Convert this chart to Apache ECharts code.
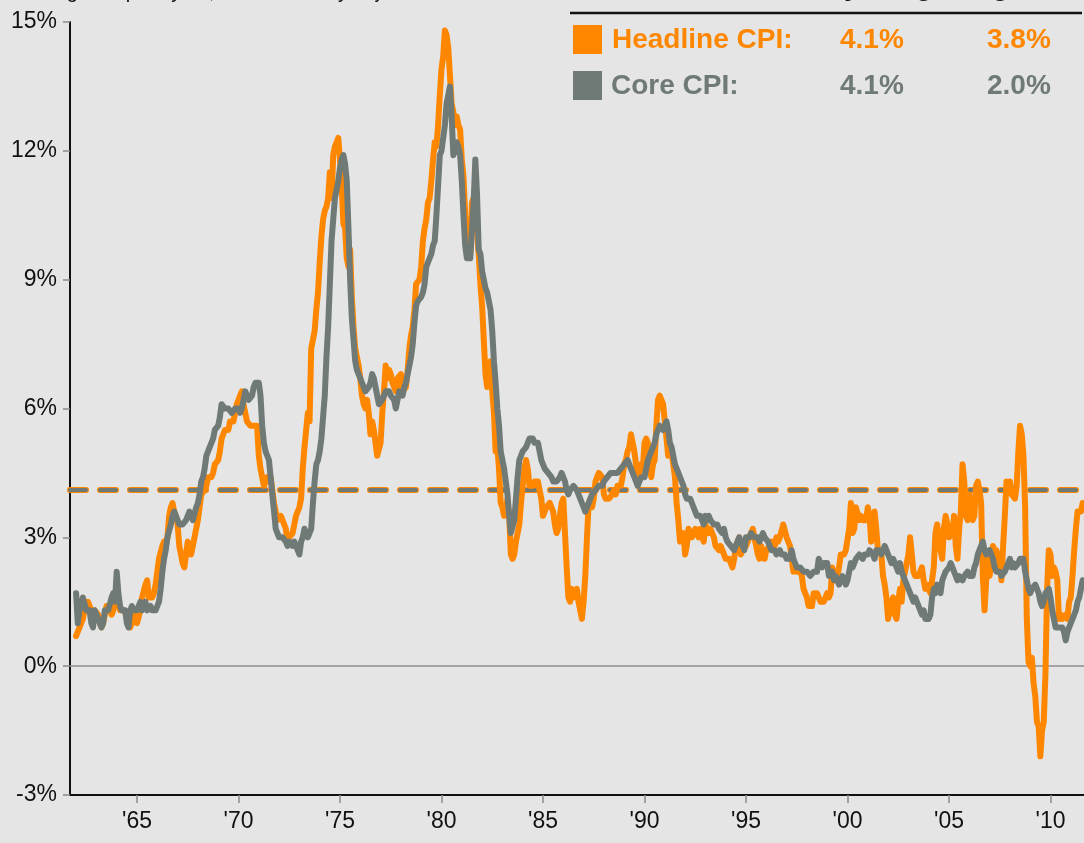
<!DOCTYPE html>
<html>
<head>
<meta charset="utf-8">
<script src="https://cdn.jsdelivr.net/npm/echarts@6/dist/echarts.min.js"></script>
<style>
  html, body { margin: 0; padding: 0; background: #e4e5e4; }
  #chart { width: 1084px; height: 843px; }
</style>
</head>
<body>
<div id="chart"></div>
<script>
// Monthly year-over-year % change, January 1962 onward (one row per year)
const firstYear = 1962;

const headline1960s = [
  0.7, 0.7, 0.9, 1.0, 1.1, 1.3, 1.4, 1.5, 1.4, 1.3, 1.2, 1.3,
  1.3, 1.2, 1.0, 0.9, 1.0, 1.2, 1.4, 1.4, 1.3, 1.2, 1.3, 1.6,
  1.6, 1.5, 1.3, 1.3, 1.3, 1.3, 1.2, 1.0, 0.9, 1.0, 1.2, 1.2,
  1.0, 1.0, 1.3, 1.6, 1.6, 1.9, 2.0, 1.6, 1.6, 1.6, 1.7, 1.9,
  1.9, 2.5, 2.5, 2.8, 2.9, 2.8, 3.0, 3.5, 3.7, 3.8, 3.6, 3.5,
  3.3, 2.8, 2.6, 2.4, 2.3, 2.6, 2.9, 2.7, 2.6, 2.8, 3.0, 3.0,
  3.4, 3.7, 4.0, 4.0, 4.1, 4.2, 4.4, 4.4, 4.4, 4.5, 4.7, 4.7,
  4.8, 5.0, 5.3, 5.4, 5.5, 5.5, 5.5, 5.7, 5.7, 5.7, 5.9, 6.1
];
const headline1970s = [
  6.1, 6.3, 6.4, 6.1, 5.9, 5.7, 5.7, 5.6, 5.6, 5.6, 5.6, 5.6,
  4.9, 4.6, 4.4, 4.2, 4.2, 4.4, 4.3, 4.4, 4.1, 3.8, 3.6, 3.4,
  3.4, 3.5, 3.4, 3.4, 3.2, 2.9, 3.0, 3.0, 3.1, 3.3, 3.5, 3.5,
  3.7, 3.9, 4.6, 5.1, 5.5, 5.9, 5.7, 7.4, 7.4, 7.8, 8.3, 8.7,
  9.4, 10.0, 10.4, 10.6, 10.7, 10.9, 11.5, 10.9, 11.9, 12.1, 12.2, 12.3,
  11.8, 11.2, 10.3, 10.2, 9.5, 9.3, 9.7, 8.6, 7.9, 7.4, 7.4, 7.0,
  6.7, 6.3, 6.1, 6.0, 6.2, 5.9, 5.4, 5.7, 5.5, 5.5, 4.9, 4.9,
  5.2, 5.9, 6.4, 7.0, 6.7, 6.9, 6.8, 6.6, 6.6, 6.4, 6.7, 6.7,
  6.8, 6.4, 6.4, 6.5, 6.9, 7.4, 7.7, 7.9, 8.3, 8.9, 8.9, 9.0,
  9.3, 9.9, 10.2, 10.4, 10.8, 10.9, 11.3, 11.8, 12.2, 12.1, 12.6, 13.3
];
const headline1980s = [
  13.9, 14.2, 14.8, 14.7, 14.4, 14.4, 13.1, 12.9, 12.6, 12.8, 12.6, 12.5,
  11.8, 11.4, 10.5, 10.0, 9.8, 9.6, 10.8, 10.8, 11.0, 10.1, 9.6, 8.9,
  8.4, 7.6, 6.8, 6.5, 6.7, 7.1, 6.4, 5.9, 5.0, 5.1, 4.6, 3.8,
  3.7, 3.5, 3.6, 3.9, 3.5, 2.6, 2.5, 2.6, 2.9, 2.9, 3.3, 3.8,
  4.2, 4.6, 4.8, 4.6, 4.2, 4.2, 4.2, 4.3, 4.3, 4.3, 4.1, 3.9,
  3.5, 3.5, 3.7, 3.7, 3.8, 3.8, 3.6, 3.3, 3.1, 3.2, 3.5, 3.8,
  3.9, 3.1, 2.3, 1.6, 1.5, 1.8, 1.6, 1.6, 1.8, 1.5, 1.3, 1.1,
  1.5, 2.1, 3.0, 3.8, 3.9, 3.7, 3.9, 4.3, 4.4, 4.5, 4.5, 4.4,
  4.0, 3.9, 3.9, 3.9, 3.9, 4.0, 4.1, 4.0, 4.2, 4.2, 4.2, 4.4,
  4.7, 4.8, 5.0, 5.1, 5.4, 5.2, 5.0, 4.7, 4.3, 4.5, 4.7, 4.6
];
const headline1990s = [
  5.2, 5.3, 5.2, 4.7, 4.4, 4.7, 4.8, 5.6, 6.2, 6.3, 6.3, 6.1,
  5.7, 5.3, 4.9, 4.9, 5.0, 4.7, 4.4, 3.8, 3.4, 2.9, 3.0, 3.1,
  2.6, 2.8, 3.2, 3.2, 3.0, 3.1, 3.2, 3.1, 3.0, 3.2, 3.0, 2.9,
  3.3, 3.2, 3.1, 3.2, 3.2, 3.0, 2.8, 2.8, 2.7, 2.8, 2.7, 2.7,
  2.5, 2.5, 2.5, 2.4, 2.3, 2.5, 2.8, 2.9, 3.0, 2.6, 2.7, 2.7,
  2.8, 2.9, 2.9, 3.1, 3.2, 3.0, 2.8, 2.6, 2.5, 2.8, 2.6, 2.5,
  2.7, 2.7, 2.8, 2.9, 2.9, 2.8, 3.0, 2.9, 3.0, 3.0, 3.3, 3.3,
  3.0, 3.0, 2.8, 2.5, 2.2, 2.3, 2.2, 2.2, 2.2, 2.1, 1.8, 1.7,
  1.6, 1.4, 1.4, 1.4, 1.7, 1.7, 1.7, 1.6, 1.5, 1.5, 1.5, 1.6,
  1.7, 1.6, 1.7, 2.3, 2.1, 2.0, 2.1, 2.3, 2.6, 2.6, 2.6, 2.7
];
const headline2000s = [
  2.7, 3.2, 3.8, 3.1, 3.2, 3.7, 3.7, 3.4, 3.5, 3.4, 3.4, 3.4,
  3.7, 3.5, 2.9, 3.3, 3.6, 3.2, 2.7, 2.7, 2.6, 2.1, 1.9, 1.6,
  1.1, 1.1, 1.5, 1.6, 1.2, 1.1, 1.5, 1.8, 1.5, 2.0, 2.2, 2.4,
  2.6, 3.0, 3.0, 2.2, 2.1, 2.1, 2.1, 2.2, 2.3, 2.0, 1.8, 1.9,
  1.9, 1.7, 1.7, 2.3, 3.1, 3.3, 3.0, 2.7, 2.5, 3.2, 3.5, 3.3,
  3.0, 3.0, 3.1, 3.5, 2.8, 2.5, 3.2, 3.6, 4.7, 4.3, 3.5, 3.4,
  4.0, 3.6, 3.4, 3.5, 4.2, 4.3, 4.1, 3.8, 2.1, 1.3, 2.0, 2.5,
  2.1, 2.4, 2.8, 2.6, 2.7, 2.7, 2.4, 2.0, 2.8, 3.5, 4.3, 4.1,
  4.3, 4.0, 4.0, 3.9, 4.2, 5.0, 5.6, 5.4, 4.9, 3.7, 1.1, 0.1,
  0.0, 0.2, -0.4, -0.7, -1.3, -1.4, -2.1, -1.5, -1.3, -0.2, 1.8, 2.7
];
const headline2010s = [
  2.6, 2.1, 2.3, 2.2, 2.0, 1.1, 1.2, 1.1, 1.1, 1.2, 1.1, 1.5,
  1.6, 2.1, 2.7, 3.2, 3.6, 3.6, 3.6, 3.8
];

const core1960s = [
  1.7, 1.0, 1.3, 1.3, 1.6, 1.6, 1.3, 1.3, 1.3, 1.0, 0.9, 1.3,
  1.3, 1.1, 1.0, 0.9, 1.0, 1.3, 1.3, 1.3, 1.3, 1.6, 1.7, 1.5,
  2.2, 1.7, 1.4, 1.3, 1.3, 1.3, 1.0, 0.9, 1.3, 1.4, 1.3, 1.3,
  1.3, 1.3, 1.5, 1.3, 1.3, 1.5, 1.3, 1.3, 1.4, 1.3, 1.3, 1.3,
  1.3, 1.5, 1.8, 2.2, 2.5, 2.7, 3.0, 3.0, 3.3, 3.5, 3.6, 3.6,
  3.4, 3.3, 3.3, 3.3, 3.3, 3.4, 3.5, 3.6, 3.6, 3.4, 3.4, 3.7,
  3.8, 4.0, 4.3, 4.4, 4.6, 4.9, 5.0, 5.1, 5.2, 5.3, 5.5, 5.5,
  5.6, 5.8, 6.1, 6.1, 6.0, 6.0, 6.0, 6.0, 5.9, 5.9, 6.0, 6.0
];
const core1970s = [
  6.0, 5.9, 6.0, 6.2, 6.4, 6.3, 6.2, 6.2, 6.3, 6.5, 6.6, 6.6,
  6.6, 6.3, 5.6, 5.2, 5.0, 4.9, 4.8, 4.4, 4.0, 3.6, 3.2, 3.1,
  3.0, 3.0, 3.0, 3.0, 2.9, 2.8, 2.9, 2.9, 2.8, 2.9, 2.8, 2.7,
  2.6, 2.9, 3.0, 3.2, 3.1, 3.0, 3.1, 3.2, 3.8, 4.3, 4.7, 4.8,
  5.0, 5.3, 5.8, 6.3, 7.2, 7.9, 8.9, 9.9, 10.4, 10.9, 11.1, 11.3,
  11.6, 11.8, 11.9, 11.7, 11.3, 10.2, 9.0, 8.1, 7.6, 7.1, 6.9, 6.8,
  6.7, 6.6, 6.5, 6.4, 6.4, 6.5, 6.6, 6.8, 6.7, 6.5, 6.3, 6.1,
  6.1, 6.2, 6.3, 6.4, 6.4, 6.4, 6.3, 6.3, 6.2, 6.0, 6.2, 6.4,
  6.4, 6.3, 6.5, 6.6, 6.8, 7.0, 7.2, 7.5, 8.0, 8.4, 8.5, 8.5,
  8.6, 8.7, 8.9, 9.3, 9.4, 9.5, 9.6, 9.8, 9.9, 10.5, 11.2, 11.9
];
const core1980s = [
  12.0, 12.0, 12.6, 13.1, 13.3, 13.5, 12.8, 11.9, 12.0, 12.2, 12.1, 11.9,
  11.3, 10.5, 9.8, 9.5, 9.5, 9.5, 9.5, 10.8, 11.8, 11.0, 9.7, 9.6,
  9.2, 9.0, 8.8, 8.7, 8.5, 8.3, 7.8, 7.1, 6.6, 6.0, 5.6, 5.0,
  4.8, 4.6, 4.3, 4.0, 3.5, 3.1, 3.1, 3.4, 3.9, 4.4, 4.8, 4.9,
  5.0, 5.0, 5.1, 5.2, 5.3, 5.3, 5.3, 5.2, 5.2, 5.2, 5.0, 4.8,
  4.7, 4.6, 4.6, 4.5, 4.5, 4.4, 4.3, 4.3, 4.3, 4.3, 4.4, 4.5,
  4.5, 4.3, 4.1, 4.0, 4.1, 4.1, 4.2, 4.2, 4.1, 4.0, 3.9, 3.8,
  3.7, 3.6, 3.7, 3.8, 3.9, 4.0, 4.0, 4.1, 4.1, 4.2, 4.2, 4.2,
  4.3, 4.3, 4.4, 4.4, 4.5, 4.5, 4.5, 4.5, 4.5, 4.5, 4.6, 4.6,
  4.7, 4.7, 4.8, 4.7, 4.6, 4.5, 4.4, 4.3, 4.2, 4.3, 4.4, 4.4
];
const core1990s = [
  4.4, 4.6, 4.8, 4.9, 5.0, 5.1, 5.2, 5.4, 5.5, 5.6, 5.6, 5.5,
  5.6, 5.7, 5.5, 5.2, 5.1, 4.9, 4.7, 4.6, 4.5, 4.4, 4.4, 4.2,
  4.0, 3.9, 3.9, 3.9, 3.8, 3.7, 3.6, 3.5, 3.5, 3.5, 3.4, 3.3,
  3.5, 3.4, 3.5, 3.4, 3.4, 3.3, 3.3, 3.3, 3.2, 3.2, 3.1, 3.2,
  3.0, 2.9, 2.9, 2.8, 2.8, 2.7, 2.8, 2.9, 3.0, 2.9, 2.8, 2.7,
  3.0, 3.0, 3.0, 3.1, 3.1, 3.0, 3.0, 3.0, 2.9, 3.0, 3.1, 3.0,
  3.0, 2.9, 2.8, 2.7, 2.7, 2.7, 2.6, 2.6, 2.7, 2.6, 2.6, 2.6,
  2.5, 2.5, 2.5, 2.7, 2.5, 2.4, 2.3, 2.3, 2.3, 2.3, 2.2, 2.2,
  2.2, 2.2, 2.1, 2.1, 2.2, 2.2, 2.2, 2.5, 2.5, 2.3, 2.4, 2.4,
  2.4, 2.1, 2.1, 2.2, 2.0, 2.1, 2.1, 1.9, 2.0, 2.1, 2.1, 1.9
];
const core2000s = [
  2.0, 2.2, 2.4, 2.3, 2.4, 2.5, 2.5, 2.6, 2.6, 2.5, 2.6, 2.6,
  2.6, 2.7, 2.7, 2.6, 2.5, 2.7, 2.7, 2.7, 2.6, 2.6, 2.8, 2.7,
  2.6, 2.6, 2.4, 2.5, 2.5, 2.3, 2.2, 2.4, 2.2, 2.2, 2.0, 1.9,
  1.9, 1.7, 1.7, 1.5, 1.6, 1.5, 1.5, 1.3, 1.2, 1.3, 1.1, 1.1,
  1.1, 1.2, 1.6, 1.8, 1.7, 1.9, 1.8, 1.7, 2.0, 2.0, 2.2, 2.2,
  2.3, 2.4, 2.3, 2.2, 2.2, 2.0, 2.1, 2.1, 2.0, 2.1, 2.1, 2.2,
  2.1, 2.1, 2.1, 2.3, 2.4, 2.6, 2.7, 2.8, 2.9, 2.7, 2.6, 2.6,
  2.7, 2.7, 2.5, 2.3, 2.2, 2.2, 2.2, 2.1, 2.1, 2.2, 2.3, 2.4,
  2.5, 2.3, 2.4, 2.3, 2.3, 2.4, 2.5, 2.5, 2.5, 2.2, 2.0, 1.8,
  1.7, 1.8, 1.8, 1.9, 1.8, 1.7, 1.5, 1.4, 1.5, 1.7, 1.7, 1.8
];
const core2010s = [
  1.6, 1.3, 1.1, 0.9, 0.9, 0.9, 0.9, 0.9, 0.8, 0.6, 0.8, 0.8,
  1.0, 1.1, 1.2, 1.3, 1.5, 1.6, 1.8, 2.0
];

// Axis ticks and summary figures
const yearTicks = [1965, 1970, 1975, 1980, 1985, 1990, 1995, 2000, 2005, 2010];
const headlineAvg = 4.1;
const coreAvg = 4.1;
const headlineLatest = 3.8;
const coreLatest = 2.0;
const columnHeads = ['50-yr. avg.', 'Aug. 2011'];
const subtitleText = '% change vs. prior year, not seasonally adjusted';

const ORANGE = '#ff8700';
const GRAY = '#6f7a77';
const BG = '#e4e5e4';
const AXIS_FONT = "'Liberation Sans Narrow', 'Arial Narrow', 'Liberation Sans', Arial, sans-serif";
const BOLD_FONT = "bold 28px 'Liberation Sans', Arial, sans-serif";

const headline = [].concat(headline1960s, headline1970s, headline1980s, headline1990s, headline2000s, headline2010s);
const core = [].concat(core1960s, core1970s, core1980s, core1990s, core2000s, core2010s);
const toPoints = vals => vals.map((v, i) => [firstYear + i / 12, v]);
const pct = v => v.toFixed(1) + '%';

// Dashed long-run average line
const avgLine = (value, color, width) => ({
  silent: true,
  symbol: 'none',
  z: 1,
  label: { show: false },
  lineStyle: { color: color, width: width, type: [16, 14], cap: 'round' },
  data: [{ yAxis: value }]
});

const chart = echarts.init(document.getElementById('chart'), null, { renderer: 'canvas' });

const option = {
  backgroundColor: BG,
  animation: false,
  grid: { left: 70, right: 0, top: 22, bottom: 48 },
  xAxis: {
    type: 'value',
    min: 1961.7,
    max: 2011.65,
    axisLine: { show: true, onZero: false, lineStyle: { color: '#111', width: 2 } },
    axisTick: { show: true, customValues: yearTicks, length: 8, lineStyle: { color: '#8a8a8a', width: 1.5 } },
    axisLabel: {
      customValues: yearTicks,
      formatter: v => "'" + String(Math.round(v)).slice(2),
      fontFamily: AXIS_FONT, fontSize: 23, color: '#111', margin: 15
    },
    splitLine: { show: false }
  },
  yAxis: {
    type: 'value',
    min: -3,
    max: 15,
    interval: 3,
    axisLine: { show: true, onZero: false, lineStyle: { color: '#111', width: 2 } },
    axisTick: { show: true, length: 7, lineStyle: { color: '#8a8a8a', width: 1.5 } },
    axisLabel: { formatter: '{value}%', fontFamily: AXIS_FONT, fontSize: 23, color: '#111', margin: 13 },
    splitLine: { show: false }
  },
  series: [
    {
      name: 'Headline CPI',
      type: 'line',
      data: toPoints(headline),
      showSymbol: false,
      symbol: 'none',
      z: 3,
      lineStyle: { color: ORANGE, width: 6, join: 'round', cap: 'round' },
      markLine: {
        silent: true, symbol: 'none', z: 1, label: { show: false },
        data: [
          { yAxis: 0, lineStyle: { color: '#8c8c8c', width: 1.5, type: 'solid' } }
        ]
      }
    },
    {
      name: 'Headline average',
      type: 'line',
      data: [],
      markLine: avgLine(headlineAvg, ORANGE, 6)
    },
    {
      name: 'Core average',
      type: 'line',
      data: [],
      markLine: avgLine(coreAvg, GRAY, 4)
    },
    {
      name: 'Core CPI',
      type: 'line',
      data: toPoints(core),
      showSymbol: false,
      symbol: 'none',
      z: 4,
      lineStyle: { color: GRAY, width: 6, join: 'round', cap: 'round' }
    }
  ],
  graphic: [
    { type: 'text', x: 0, y: -8, silent: true,
      style: { text: subtitleText, font: "20px 'Liberation Sans', Arial, sans-serif", fill: '#111', textAlign: 'left', textVerticalAlign: 'middle' } },
    { type: 'text', x: 872, y: -13, silent: true,
      style: { text: columnHeads[0], font: BOLD_FONT, fill: '#111', textAlign: 'center', textVerticalAlign: 'middle' } },
    { type: 'text', x: 1020, y: -13, silent: true,
      style: { text: columnHeads[1], font: BOLD_FONT, fill: '#111', textAlign: 'center', textVerticalAlign: 'middle' } },
    { type: 'line', silent: true, shape: { x1: 570, y1: 13, x2: 1082, y2: 13 }, style: { stroke: '#111', lineWidth: 2.5 } },
    { type: 'rect', silent: true, shape: { x: 573, y: 25, width: 29, height: 29 }, style: { fill: ORANGE } },
    { type: 'text', x: 612, y: 40, silent: true,
      style: { text: 'Headline CPI:', font: BOLD_FONT, fill: ORANGE, textAlign: 'left', textVerticalAlign: 'middle' } },
    { type: 'text', x: 840, y: 40, silent: true,
      style: { text: pct(headlineAvg), font: BOLD_FONT, fill: ORANGE, textAlign: 'left', textVerticalAlign: 'middle' } },
    { type: 'text', x: 987, y: 40, silent: true,
      style: { text: pct(headlineLatest), font: BOLD_FONT, fill: ORANGE, textAlign: 'left', textVerticalAlign: 'middle' } },
    { type: 'rect', silent: true, shape: { x: 573, y: 71, width: 29, height: 29 }, style: { fill: GRAY } },
    { type: 'text', x: 611, y: 86, silent: true,
      style: { text: 'Core CPI:', font: BOLD_FONT, fill: GRAY, textAlign: 'left', textVerticalAlign: 'middle' } },
    { type: 'text', x: 840, y: 86, silent: true,
      style: { text: pct(coreAvg), font: BOLD_FONT, fill: GRAY, textAlign: 'left', textVerticalAlign: 'middle' } },
    { type: 'text', x: 987, y: 86, silent: true,
      style: { text: pct(coreLatest), font: BOLD_FONT, fill: GRAY, textAlign: 'left', textVerticalAlign: 'middle' } }
  ]
};

chart.setOption(option);
</script>
</body>
</html>
